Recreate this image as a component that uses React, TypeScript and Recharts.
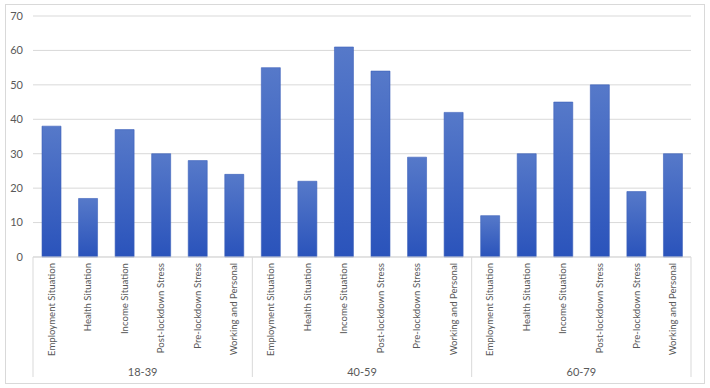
import { BarChart, Bar, XAxis, YAxis, CartesianGrid } from 'recharts'

const groups = ['18-39', '40-59', '60-79']
const factors = [
  'Employment Situation',
  'Health Situation',
  'Income Situation',
  'Post-lockdown Stress',
  'Pre-lockdown Stress',
  'Working and Personal',
]
const values1839 = [38, 17, 37, 30, 28, 24]
const values4059 = [55, 22, 61, 54, 29, 42]
const values6079 = [12, 30, 45, 50, 19, 30]
const yTicks = [0, 10, 20, 30, 40, 50, 60, 70]

const seriesByGroup = [values1839, values4059, values6079]
const data = groups.flatMap((g, gi) =>
  factors.map((f, fi) => ({ key: `${g}|${f}`, group: g, factor: f, value: seriesByGroup[gi][fi] }))
)

const FONT = 'Lato, "Open Sans", sans-serif'
const TEXT = '#595959'
const LINE = '#d9d9d9'

function CatTick(props: any) {
  const { x, y, index, payload, width, visibleTicksCount } = props
  const n = visibleTicksCount || data.length
  const band = (width || 658) / n
  const row = data[index] || data[payload.index]
  const pos = index % factors.length
  return (
    <g>
      <text
        x={x}
        y={y + 6}
        transform={`rotate(-90, ${x}, ${y + 6})`}
        textAnchor="end"
        dy="0.35em"
        fill={TEXT}
        fontSize={9.6}
        fontFamily={FONT}
      >
        {row ? row.factor : ''}
      </text>
      {pos === 0 && <line x1={x - band / 2} x2={x - band / 2} y1={y} y2={y + 120} stroke={LINE} />}
      {index === data.length - 1 && <line x1={x + band / 2} x2={x + band / 2} y1={y} y2={y + 120} stroke={LINE} />}
      {pos === 2 && (
        <text x={x + band / 2} y={y + 119} textAnchor="middle" fill={TEXT} fontSize={11} fontFamily={FONT}>
          {row ? row.group : ''}
        </text>
      )}
    </g>
  )
}

export default function App() {
  return (
    <div style={{ position: 'absolute', left: 0, top: 0, width: 710, height: 388, background: '#fff' }}>
      <div
        style={{
          position: 'absolute', left: 5, top: 4, width: 700, height: 380,
          border: `1px solid ${LINE}`, boxSizing: 'border-box',
        }}
      />
      <div style={{ position: 'absolute', left: 0, top: 0 }}>
        <BarChart width={710} height={388} data={data} margin={{ top: 16, right: 19, left: 0, bottom: 0 }}>
          <defs>
            <linearGradient id="barFill" x1="0" y1="0" x2="0" y2="1">
              <stop offset="0%" stopColor="#5679c9" />
              <stop offset="100%" stopColor="#2a53bb" />
            </linearGradient>
          </defs>
          <CartesianGrid vertical={false} stroke={LINE} />
          <YAxis
            width={33}
            domain={[0, 70]}
            ticks={yTicks}
            interval={0}
            axisLine={false}
            tickLine={false}
            tickSize={0}
            tickMargin={10}
            tick={{ fill: TEXT, fontSize: 11, fontFamily: FONT }}
          />
          <XAxis
            dataKey="key"
            height={131}
            interval={0}
            axisLine={{ stroke: LINE }}
            tickLine={false}
            tickSize={0}
            tickMargin={0}
            tick={<CatTick />}
          />
          <Bar dataKey="value" barSize={19} fill="url(#barFill)" stroke="#3b60bb" strokeWidth={0.6} isAnimationActive={false} />
        </BarChart>
      </div>
    </div>
  )
}
